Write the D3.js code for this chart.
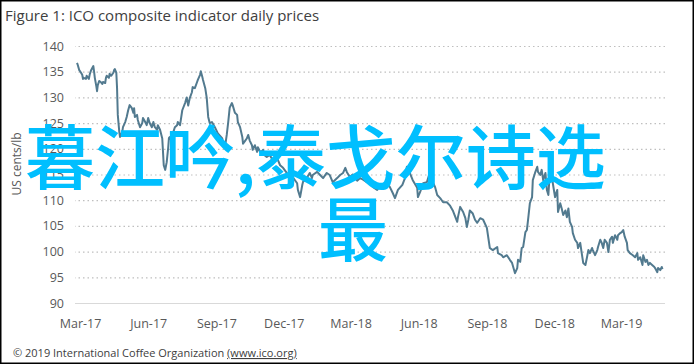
<!DOCTYPE html>
<html><head><meta charset="utf-8">
<script src="https://cdn.jsdelivr.net/npm/d3@7/dist/d3.min.js"></script>
<style>
html,body{margin:0;padding:0;background:#fff;}
svg{display:block;}
</style></head>
<body>
<svg id="chart" width="695" height="364"></svg>
<script>
// ---- data ----
const title = "Figure 1: ICO composite indicator daily prices";
const yAxisTitle = "US cents/lb";
const footer = "© 2019 International Coffee Organization ";
const footerLink = "(www.ico.org)";
const overlayLine1 = "暮江吟,泰戈尔诗选";
const overlayLine2 = "最";
const startDate = "2017-03-01";
const yTicks = [90, 95, 100, 105, 110, 115, 120, 125, 130, 135, 140];
const xTickDates = ["2017-03-01","2017-06-01","2017-09-01","2017-12-01","2018-03-01","2018-06-01","2018-09-01","2018-12-01","2019-03-01"];
// days since startDate
const dayIndex = [-4,-3,-1,1,3,4,5,8,9,12,13,15,18,19,20,22,23,24,26,28,30,31,34,35,36,39,40,42,45,46,47,49,50,51,53,54,57,58,61,63,65,67,70,72,73,74,77,78,81,84,85,88,90,92,94,97,99,101,104,105,108,111,112,113,115,117,119,120,121,124,126,128,131,132,135,138,142,144,146,148,151,152,155,158,159,162,163,165,166,169,171,173,175,178,182,186,192,193,196,198,200,202,205,206,209,212,213,216,219,220,223,225,227,229,232,233,236,239,240,243,246,247,250,252,256,260,266,270,274,279,283,287,293,294,297,300,301,306,310,313,314,320,324,328,333,337,341,347,351,355,358,360,364,368,374,378,382,387,391,395,401,405,409,414,418,422,425,429,435,439,441,445,449,455,456,459,463,468,471,475,479,482,486,490,495,499,503,509,510,513,517,520,522,524,526,530,533,536,540,544,549,553,557,563,564,569,571,576,580,583,587,590,591,594,596,598,601,603,605,607,610,611,614,617,618,621,623,625,628,630,632,634,637,638,641,644,645,648,650,652,655,657,659,661,664,665,668,671,672,675,677,679,682,684,686,688,691,692,695,698,699,702,704,706,708,711,713,715,718,719,722,725,726,729,731,733,735,738,739,742,746,749,752,753,756,759,760,763,765,767,769,772,775,776,779,780,783,785,786];
const prices = [136.7,136.3,135.3,134.9,134.4,133.6,133.8,133.6,134.2,133.6,134.4,135.3,136.1,135.0,133.8,132.2,131.2,132.4,133.2,133.0,132.6,133.0,132.8,133.8,134.2,133.8,134.6,134.2,134.8,135.3,135.5,134.8,131.8,126.6,123.3,122.3,123.3,124.2,125.2,126.2,127.5,128.5,127.9,127.0,127.9,126.2,126.6,125.6,124.2,125.0,126.0,125.2,124.6,126.0,125.0,124.2,125.2,124.2,123.7,124.6,123.7,122.0,119.4,116.8,115.9,117.4,120.2,122.1,122.3,121.4,123.3,124.2,124.6,125.2,124.6,127.5,129.0,130.0,128.4,129.8,131.0,132.0,131.8,133.0,133.4,134.4,135.1,134.0,133.4,131.8,129.9,126.2,125.0,125.2,124.2,123.0,122.0,121.0,120.7,122.7,125.2,128.0,128.9,128.5,127.0,126.6,125.2,124.2,122.3,121.0,121.6,122.0,122.7,121.6,120.7,119.8,120.7,119.4,120.3,119.4,119.6,119.8,118.6,118.4,118.8,117.8,118.2,116.8,116.3,115.3,114.9,114.5,113.3,112.0,110.6,113.0,113.6,114.3,115.3,114.3,114.9,115.5,114.9,114.3,115.3,114.9,113.5,114.3,114.9,115.3,116.3,115.5,114.5,115.0,113.8,114.3,114.0,113.5,113.9,112.6,112.0,113.0,112.4,113.3,112.6,111.4,110.4,112.0,113.0,114.5,116.5,115.3,113.9,112.4,110.6,111.6,113.3,113.5,114.9,113.9,112.6,111.0,110.4,109.6,109.6,109.0,108.0,105.8,106.7,108.7,107.7,106.5,104.8,106.2,108.0,107.4,106.2,105.6,106.5,106.2,104.6,100.7,100.3,100.9,99.7,99.3,98.9,99.3,98.4,97.8,95.8,96.8,98.4,98.0,100.7,100.9,103.8,104.2,106.7,109.4,110.6,113.9,115.3,116.5,115.5,114.9,115.9,113.9,115.3,112.0,111.0,115.5,114.3,113.3,110.6,112.0,107.7,109.4,108.4,107.1,108.0,106.7,108.4,105.8,104.8,103.6,102.3,101.7,100.7,101.7,99.7,97.8,97.4,98.8,100.3,99.7,100.7,100.3,99.3,100.3,100.9,102.3,101.7,100.7,102.3,101.7,99.9,102.3,102.9,101.7,103.2,102.3,103.2,103.6,103.8,104.2,102.9,101.7,100.3,99.7,99.3,98.9,99.7,98.4,98.9,97.4,99.3,98.0,98.4,97.4,97.8,97.4,97.0,96.8,96.0,96.8,96.4,97.0,96.6];

// ---- drawing ----
const svg = d3.select("#chart");
const W = 695, H = 364;
const parse = d3.timeParse("%Y-%m-%d");
const base = parse(startDate);
const series = dayIndex.map((d, i) => ({date: d3.timeDay.offset(base, d), v: prices[i]}));

const x = d3.scaleTime().domain([parse("2017-03-01"), parse("2019-03-01")]).range([80, 621]);
const y = d3.scaleLinear().domain([90, 140]).range([303, 46]);
const gridX0 = 75, gridX1 = 665;
const txt = "#595959";
const font = "'Open Sans', 'Liberation Sans', sans-serif";

svg.append("rect").attr("x", 0.75).attr("y", 0.75).attr("width", W - 2.5).attr("height", H - 1.5)
  .attr("fill", "#fff").attr("stroke", "#000").attr("stroke-width", 1.5);

svg.append("text").attr("x", 5).attr("y", 21).text(title)
  .attr("font-family", font).attr("font-size", 15).attr("fill", "#404040");

// gridlines
const yAxis = d3.axisLeft(y).tickValues(yTicks).tickSize(gridX0 - gridX1).tickPadding(10).tickFormat(d3.format("d"));
const gy = svg.append("g").attr("transform", `translate(${gridX0},0)`).call(yAxis);
gy.select(".domain").remove();
gy.selectAll(".tick line").attr("stroke-width", 1.2)
  .attr("stroke-dasharray", d => d === 90 ? null : "1.5,3").attr("stroke", d => d === 90 ? "#d9d9d9" : "#bfbfbf")
  .attr("x1", gridX1 - gridX0).attr("x2", 0);
gy.selectAll(".tick text").attr("font-family", font).attr("font-size", 12.5).attr("fill", txt).attr("x", -11);

// x axis labels
const xAxis = d3.axisBottom(x).tickValues(xTickDates.map(parse)).tickSize(0).tickPadding(16).tickFormat(d3.timeFormat("%b-%y"));
const gx = svg.append("g").attr("transform", "translate(0,303)").call(xAxis);
gx.select(".domain").remove();
gx.selectAll(".tick text").attr("font-family", font).attr("font-size", 12.5).attr("fill", txt);

// y title
svg.append("text").attr("transform", "translate(21,164) rotate(-90)").attr("text-anchor", "middle")
  .text(yAxisTitle).attr("font-family", font).attr("font-size", 12).attr("fill", txt);

// line
const line = d3.line().x(d => x(d.date)).y(d => y(d.v));
svg.append("path").datum(series).attr("d", line).attr("fill", "none")
  .attr("stroke", "#527a8f").attr("stroke-width", 2).attr("stroke-linejoin", "round");

// footer
const ft = svg.append("text").attr("x", 13).attr("y", 357).attr("font-family", font).attr("font-size", 11).attr("fill", "#404040");
ft.append("tspan").text(footer);
ft.append("tspan").text(footerLink).attr("text-decoration", "underline");

// overlay text
const cjk = "'Noto Sans CJK SC', sans-serif";
svg.append("text").attr("x", 25).attr("y", 184).text(overlayLine1)
  .attr("font-family", cjk).attr("font-size", 70).attr("font-weight", 500).attr("fill", "#00bfff");
svg.append("text").attr("x", 353).attr("y", 256).attr("text-anchor", "middle").text(overlayLine2)
  .attr("font-family", cjk).attr("font-size", 70).attr("font-weight", 500).attr("fill", "#00bfff");
</script>
</body></html>
